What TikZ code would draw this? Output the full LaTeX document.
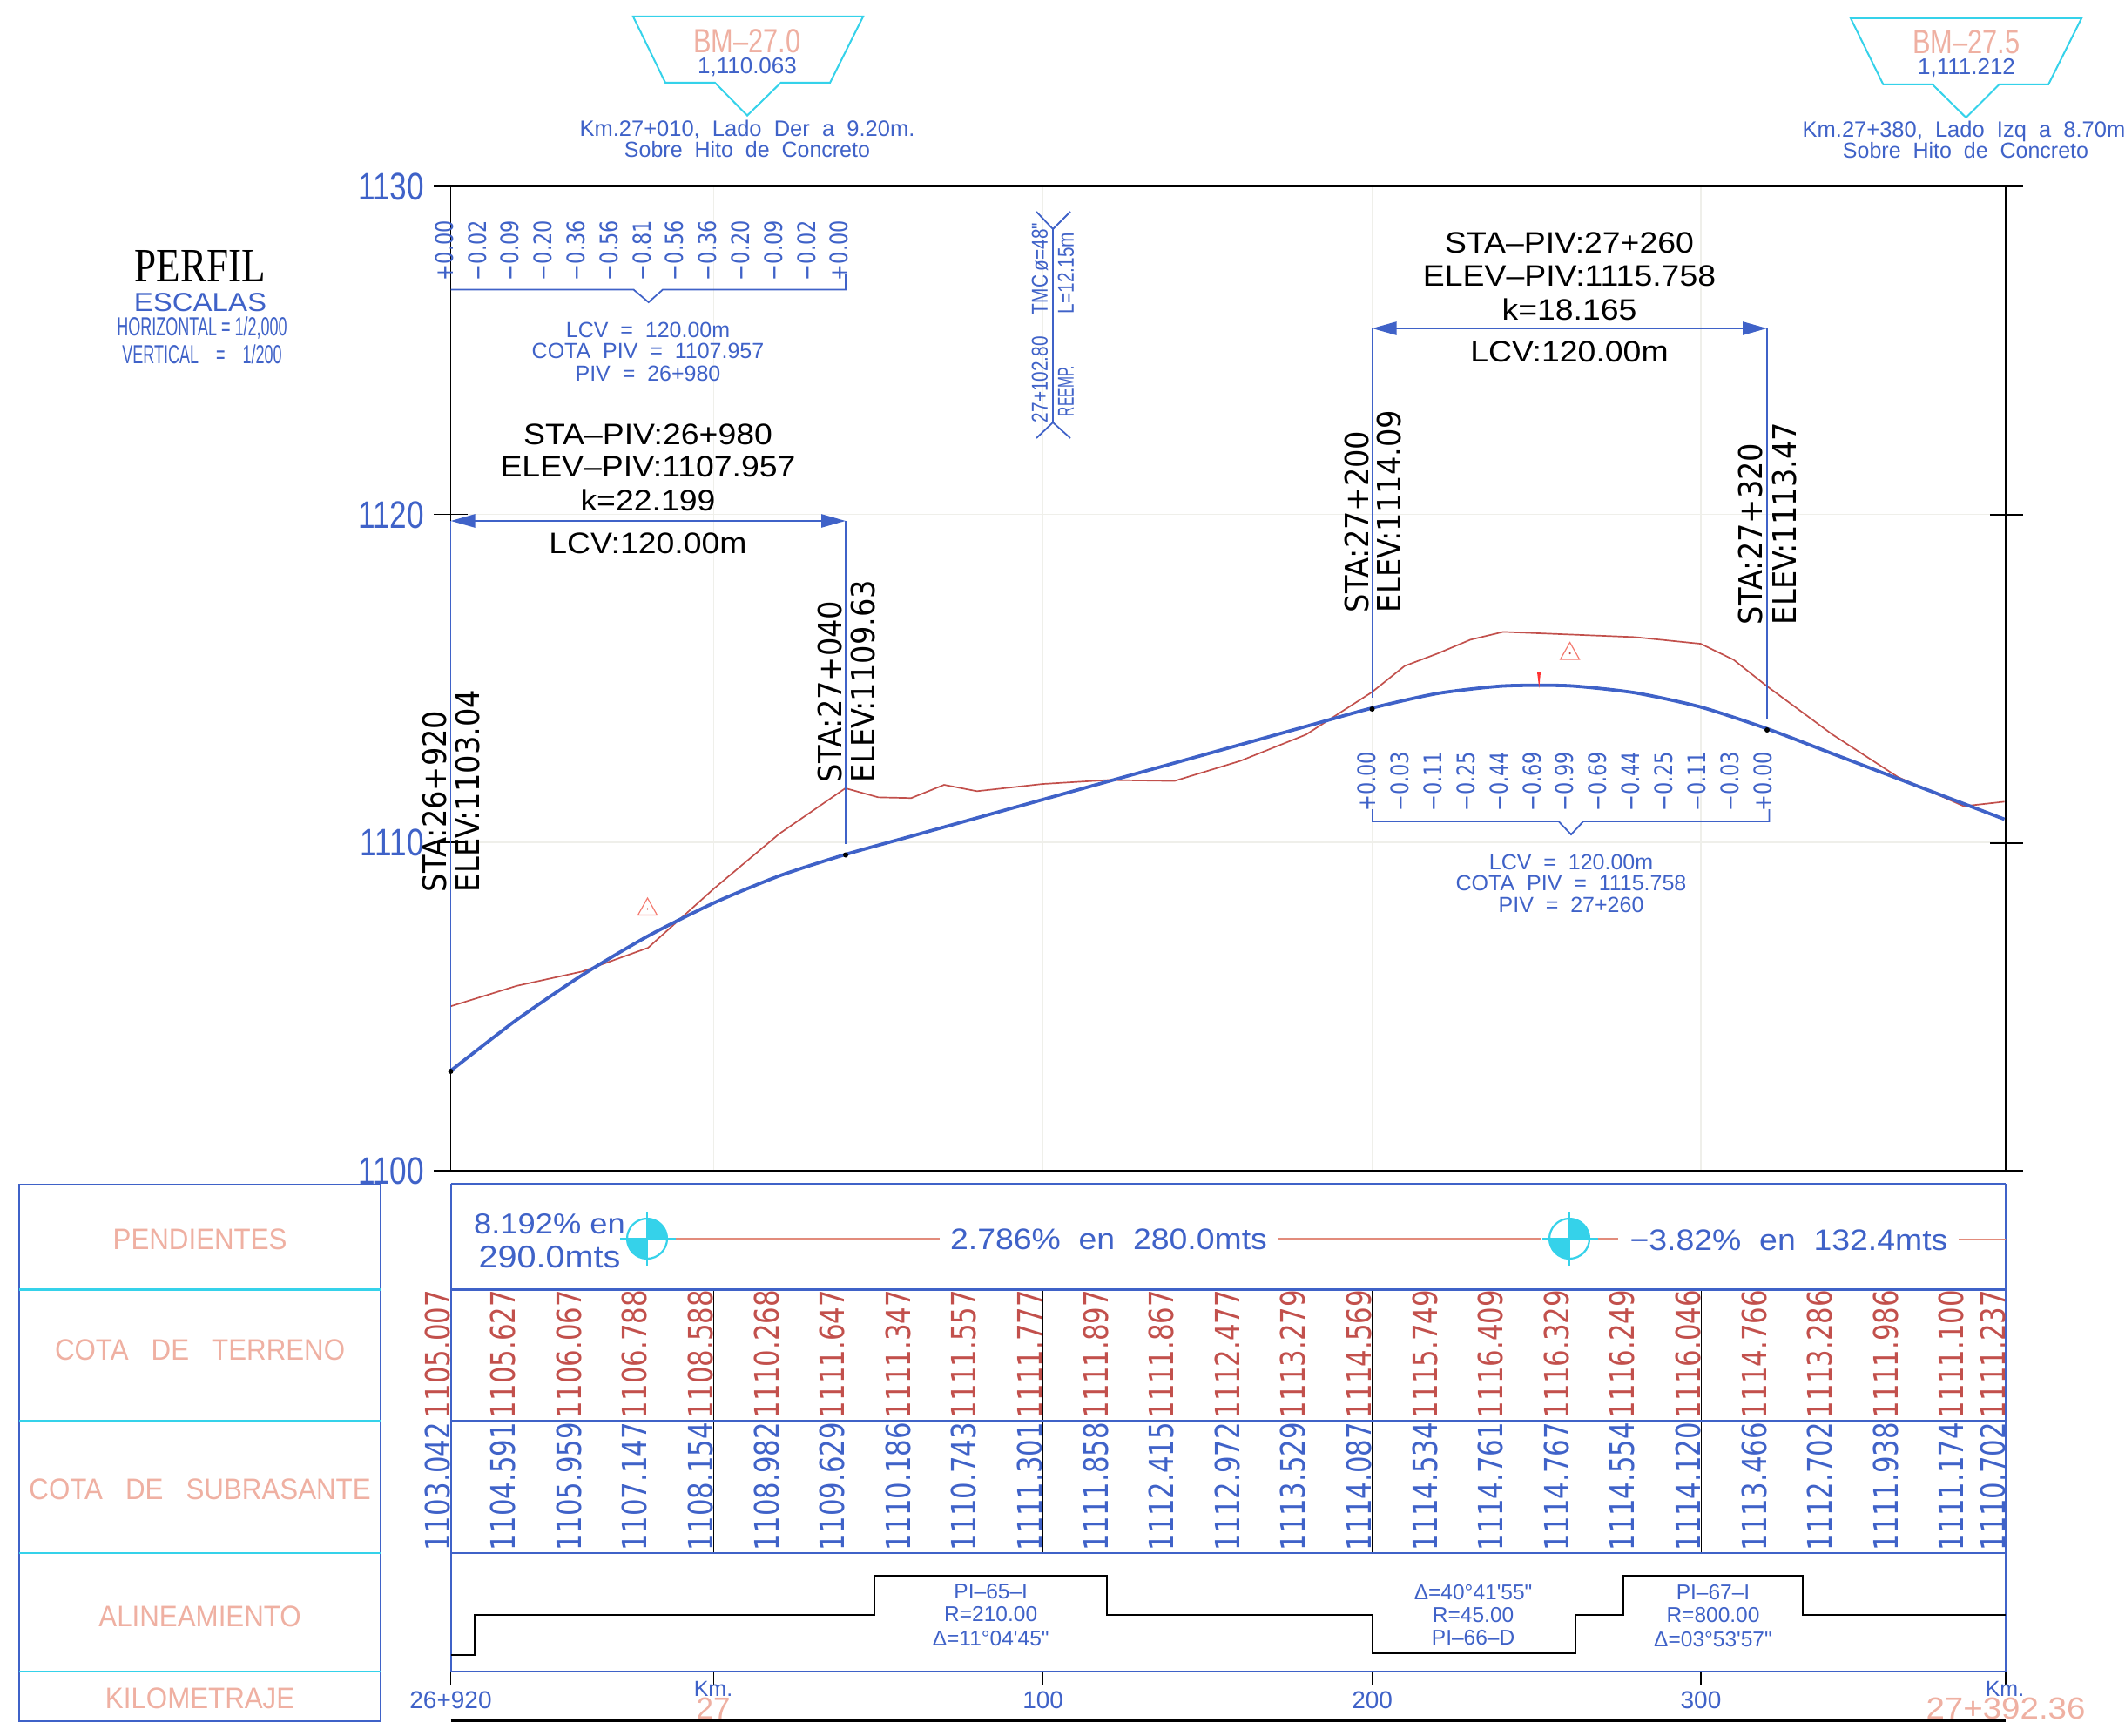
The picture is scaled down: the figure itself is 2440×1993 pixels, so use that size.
\documentclass[tikz,border=0pt]{standalone}
\usepackage{fontspec}
\usetikzlibrary{arrows.meta}
\setmainfont{Liberation Sans}
\newfontfamily\lsN[FakeStretch=0.60]{Liberation Sans}
\newfontfamily\lsA[FakeStretch=0.80]{Liberation Sans}
\newfontfamily\lsD[FakeStretch=0.92]{Liberation Sans}
\newfontfamily\lsB{Liberation Sans}
\newfontfamily\lsC[FakeStretch=1.10]{Liberation Sans}
\newfontfamily\dvA[FakeStretch=0.80]{DejaVu Sans}
\newfontfamily\dvB[FakeStretch=0.91]{DejaVu Sans}
\newfontfamily\srf[FakeStretch=0.82]{Liberation Serif}
\newcommand\fs[1]{\fontsize{#1}{#1}\selectfont}
\definecolor{cadblue}{HTML}{3F62C8}
\definecolor{cadcyan}{HTML}{35D2EA}
\definecolor{cadred}{HTML}{C2504C}
\definecolor{cadpink}{HTML}{EFB0A2}
\definecolor{slopered}{HTML}{E28C7C}
\definecolor{gridgray}{HTML}{EFEFEA}
\tikzset{
  lab/.style={inner sep=0pt,outer sep=0pt,align=center},
  bluet/.style={lab,text=cadblue},
  blackt/.style={lab,text=black},
  pinkt/.style={lab,text=cadpink},
  redt/.style={lab,text=cadred},
  vert/.style={rotate=90,anchor=west},
  bline/.style={draw=cadblue,line width=1.8pt},
  tline/.style={draw=cadblue,line width=2.6pt},
  kline/.style={draw=black,line width=1.5pt},
  hline/.style={draw=black,line width=2.4pt},
  cyline/.style={draw=cadcyan,line width=2pt},
  dim/.style={draw=cadblue,line width=2.5pt,{Triangle[length=28pt,width=15pt]}-{Triangle[length=28pt,width=15pt]}},
  pt/.style={circle,fill=black,inner sep=0pt,minimum size=6pt},
  bigblack/.style={blackt,font=\lsC\fs{34}},
  rotblack/.style={blackt,vert,font=\dvB\fs{37}},
  ordt/.style={bluet,vert,font=\dvA\fs{28}},
  small/.style={bluet,font=\lsB\fs{25}},
  alignt/.style={bluet,font=\lsB\fs{24.5}},
  kmt/.style={bluet,font=\lsB\fs{28}},
  mid/.style={bluet,font=\lsC\fs{34}},
  rowt/.style={pinkt,font=\lsD\fs{34}},
}
\begin{document}
\begin{tikzpicture}[x=1pt,y=-1pt]
\useasboundingbox (0,0) rectangle (2440,1993);
\fill[white] (0,0) rectangle (2440,1993);
% grid
\foreach \gx in {819.6,1197.7,1575.6,1953}
  \draw[gridgray,line width=1.2pt] (\gx,213.5) -- (\gx,1344);
\foreach \gy in {590.5,967}
  \draw[gridgray,line width=1.2pt] (517.5,\gy) -- (2303,\gy);
% axes
\draw[hline] (498,213.5) -- (2323,213.5);
\draw[hline] (498,1344) -- (2323,1344);
\draw[kline] (517.5,213.5) -- (517.5,598);
\draw[kline] (517.5,1230) -- (517.5,1344);
\draw[kline] (2303,213.5) -- (2303,1344);
\draw[kline] (498,590.5) -- (537,590.5);
\draw[kline] (504,967) -- (537,967);
\draw[kline] (2285,591) -- (2323,591);
\draw[kline] (2285,968) -- (2323,968);
\node[bluet,anchor=east,font=\lsA\fs{44}] (y1130) at (487,214) {1130};
\node[bluet,anchor=east,font=\lsA\fs{44}] (y1120) at (487,591) {1120};
\node[bluet,anchor=east,font=\lsA\fs{44}] (y1110) at (487,967) {1110};
\node[bluet,anchor=east,font=\lsA\fs{44}] (y1100) at (487,1344) {1100};
% profile lines
\begin{scope}[shift={(517.5,1344)},x=3.777pt,y=37.7pt]
\draw[cadred,line width=1.7pt,line join=round] plot coordinates {(0,5.007)(20,5.627)(40,6.067)(60,6.788)(80,8.588)(100,10.268)(120,11.647)(130,11.37)(140,11.347)(150,11.75)(160,11.557)(180,11.777)(200,11.897)(220,11.867)(240,12.477)(260,13.279)(280,14.569)(290,15.37)(300,15.749)(310,16.17)(320,16.409)(340,16.329)(360,16.249)(380,16.046)(390,15.56)(400,14.766)(420,13.286)(440,11.986)(460,11.100)(472.36,11.237)};
\draw[cadblue,line width=3.8pt,line join=round] plot[smooth,tension=0.4] coordinates {(0,3.042)(20,4.591)(40,5.959)(60,7.147)(80,8.154)(100,8.982)(120,9.629)(140,10.186)(160,10.743)(180,11.301)(200,11.858)(220,12.415)(240,12.972)(260,13.529)(280,14.087)(300,14.534)(320,14.761)(340,14.767)(360,14.554)(380,14.120)(400,13.466)(420,12.702)(440,11.938)(460,11.174)(472.36,10.702)};
\end{scope}
% vertical curve block 1
\coordinate (a1) at (517.5,598);
\coordinate (a2) at (971,598);
\coordinate (a1b) at (517.5,1230);
\coordinate (a2b) at (971,969);
\draw[bline] (a1) -- (a1b);
\draw[bline] (a2) -- (a2b);
\draw[dim] (a1) -- (a2);
\node[pt] (d1) at (517.5,1230) {};
\node[pt] (d2) at (971,981.5) {};
\node[bigblack] (s1a) at (744,499) {STA–PIV:26+980};
\node[bigblack] (s1b) at (744,536) {ELEV–PIV:1107.957};
\node[bigblack] (s1c) at (744,574) {k=22.199};
\node[bigblack] (s1d) at (744,624) {LCV:120.00m};
\node[rotblack] (r1) at (499,1024) {STA:26+920};
\node[rotblack] (r2) at (537,1024) {ELEV:1103.04};
\node[rotblack] (r3) at (953,898) {STA:27+040};
\node[rotblack] (r4) at (991,898) {ELEV:1109.63};
% vertical curve block 2
\coordinate (b1) at (1575.5,377);
\coordinate (b2) at (2029,377);
\coordinate (b1b) at (1575.5,801);
\coordinate (b2b) at (2029,826);
\draw[bline] (b1) -- (b1b);
\draw[bline] (b2) -- (b2b);
\draw[dim] (b1) -- (b2);
\node[pt] (d3) at (1575.5,814) {};
\node[pt] (d4) at (2029,838) {};
\node[bigblack] (s2a) at (1802,279) {STA–PIV:27+260};
\node[bigblack] (s2b) at (1802,316.5) {ELEV–PIV:1115.758};
\node[bigblack] (s2c) at (1802,355) {k=18.165};
\node[bigblack] (s2d) at (1802,404) {LCV:120.00m};
\node[rotblack] (r5) at (1558,703) {STA:27+200};
\node[rotblack] (r6) at (1595,703) {ELEV:1114.09};
\node[rotblack] (r7) at (2010,717) {STA:27+320};
\node[rotblack] (r8) at (2049,717) {ELEV:1113.47};
% ordinates
\foreach \v [count=\i from 0] in {+0.00,−0.02,−0.09,−0.20,−0.36,−0.56,−0.81,−0.56,−0.36,−0.20,−0.09,−0.02,+0.00}
  \node[ordt] (oa\i) at ({510+37.8*\i},322) {\v};
\draw[bline] (517.5,332.5) -- (727.5,332.5) -- (744.7,347) -- (761,332.5) -- (971,332.5) -- (971,314);
\node[small] (l1a) at (744,378.5) {LCV\ \ =\ \ 120.00m};
\node[small] (l1b) at (744,403) {COTA\ \ PIV\ \ =\ \ 1107.957};
\node[small] (l1c) at (744,428.5) {PIV\ \ =\ \ 26+980};
\foreach \v [count=\i from 0] in {+0.00,−0.03,−0.11,−0.25,−0.44,−0.69,−0.99,−0.69,−0.44,−0.25,−0.11,−0.03,+0.00}
  \node[ordt] (ob\i) at ({1569.6+37.85*\i},931.5) {\v};
\draw[bline] (1576,929) -- (1576,943) -- (1789.6,943) -- (1804,958) -- (1818,943) -- (2031.5,943) -- (2031.5,929);
\node[small] (l2a) at (1804,989.5) {LCV\ \ =\ \ 120.00m};
\node[small] (l2b) at (1804,1013.5) {COTA\ \ PIV\ \ =\ \ 1115.758};
\node[small] (l2c) at (1804,1039) {PIV\ \ =\ \ 27+260};
% marks on profile
\foreach \mx/\my in {743.5/1050.5,1802.6/757}{
  \draw[cadpink!70!red,line width=1.2pt] (\mx-11,\my) -- (\mx+11,\my) -- (\mx,\my-19.5) -- cycle;
  \fill[cadred] (\mx,\my-7) circle[radius=1.2];
}
\fill[red!80!white] (1765,772) -- (1769,772) -- (1767.3,790) -- cycle;
% TMC note
\draw[bline] (1209,263) -- (1209,485);
\draw[bline] (1190,243) -- (1209,263) -- (1229,243);
\draw[bline] (1190,503) -- (1209,485) -- (1229,503);
\node[bluet,vert,font=\lsA\fs{26}] (t1) at (1194,485) {27+102.80};
\node[bluet,vert,font=\lsA\fs{26}] (t2) at (1194,361) {TMC};
\node[bluet,vert,font=\lsA\fs{26}] (t3) at (1194,311) {ø=48"};
\node[bluet,vert,font=\lsN\fs{26}] (t4) at (1224,478) {REEMP.};
\node[bluet,vert,font=\lsA\fs{26}] (t5) at (1224,360) {L=12.15m};
% benchmarks
\draw[cyline] (727,19) -- (991,19) -- (953,95) -- (896.5,95) -- (858,132.6) -- (821,95) -- (764,95) -- cycle;
\draw[cyline] (2125,21) -- (2390,21) -- (2352,97) -- (2295.5,97) -- (2257.4,135) -- (2219,97) -- (2162.4,97) -- cycle;
\node[pinkt,font=\lsA\fs{38.5}] (bm1) at (858,47) {BM–27.0};
\node[bluet,font=\lsB\fs{26}] (bv1) at (858,77) {1,110.063};
\node[bluet,font=\lsB\fs{25.5}] (bk1) at (858,148.7) {Km.27+010,\ \ Lado\ \ Der\ \ a\ \ 9.20m.};
\node[small] (bh1) at (858,171.4) {Sobre\ \ Hito\ \ de\ \ Concreto};
\node[pinkt,font=\lsA\fs{38.5}] (bm2) at (2258,48) {BM–27.5};
\node[bluet,font=\lsB\fs{26}] (bv2) at (2258,78.5) {1,111.212};
\node[bluet,font=\lsB\fs{25.5}] (bk2) at (2255,151) {Km.27+380,\ \ Lado\ \ Izq\ \ a\ \ 8.70m};
\node[small] (bh2) at (2257,172.3) {Sobre\ \ Hito\ \ de\ \ Concreto};
% title
\node[lab,text=black,font=\srf\fs{55}] (perfil) at (230,305) {PERFIL};
\node[bluet,font=\lsC\fs{30}] (esc) at (230,347) {ESCALAS};
\node[bluet,font=\lsN\fs{30}] (hor) at (232,377) {HORIZONTAL = 1/2,000};
\node[bluet,font=\lsN\fs{30}] (ver) at (232,407) {VERTICAL\ \ \ \ =\ \ \ \ 1/200};
% left table
\draw[tline] (22,1360) rectangle (437,1976);
\foreach \ly in {1480.5,1631,1783,1919}
  \draw[cyline,line width=2.6pt] (22,\ly) -- (437,\ly);
\node[rowt] (p1) at (229.6,1422.5) {PENDIENTES};
\node[rowt] (p2) at (229.6,1549.6) {COTA\ \ \ DE\ \ \ TERRENO};
\node[rowt] (p3) at (229.6,1710) {COTA\ \ \ DE\ \ \ SUBRASANTE};
\node[rowt] (p4) at (229.6,1856) {ALINEAMIENTO};
\node[rowt] (p5) at (229.6,1950) {KILOMETRAJE};
% right table
\foreach \vx in {819.6,1197.7,1575.6,1953}{
  \draw[black,line width=1pt] (\vx,1480.5) -- (\vx,1783);
  \draw[kline] (\vx,1919) -- (\vx,1934);
}
\draw[kline] (517.5,1919) -- (517.5,1934);
\draw[kline] (2303,1919) -- (2303,1934);
\draw[tline] (517.5,1359) -- (2303,1359);
\foreach \ly in {1480.5,1631,1783,1919}
  \draw[tline] (517.5,\ly) -- (2303,\ly);
\draw[bline,line width=2pt] (517.5,1359) -- (517.5,1919);
\draw[bline,line width=2pt] (2303,1359) -- (2303,1919);
\draw[hline] (517.5,1975.5) -- (2303,1975.5);
% slope row
\foreach \cx in {743,1802}{
  \begin{scope}
    \clip (\cx,1422) circle[radius=23];
    \fill[cadcyan] (\cx,1399) rectangle (\cx+23,1422);
    \fill[cadcyan] (\cx-23,1422) rectangle (\cx,1445);
  \end{scope}
  \draw[cyline,line width=2.2pt] (\cx,1422) circle[radius=23];
  \draw[cyline,line width=2.2pt] (\cx-31,1422) -- (\cx+33,1422);
  \draw[cyline,line width=2.2pt] (\cx,1391) -- (\cx,1453);
}
\draw[slopered,line width=1.2pt] (776,1422) -- (1079,1422);
\draw[slopered,line width=1.2pt] (1467.5,1422) -- (1770,1422);
\draw[slopered,line width=1.2pt] (1835,1422) -- (1858,1422);
\draw[slopered,line width=1.2pt] (2249,1423) -- (2303,1423);
\node[bluet,font=\lsC\fs{33}] (g1) at (631,1405) {8.192\%\ en};
\node[bluet,font=\lsC\fs{36}] (g2) at (631,1443) {290.0mts};
\node[mid] (g3) at (1273,1423) {2.786\%\ \ en\ \ 280.0mts};
\node[mid] (g4) at (2054,1424) {−3.82\%\ \ en\ \ 132.4mts};
% elevations
\foreach \v [count=\i from 0] in {1105.007,1105.627,1106.067,1106.788,1108.588,1110.268,1111.647,1111.347,1111.557,1111.777,1111.897,1111.867,1112.477,1113.279,1114.569,1115.749,1116.409,1116.329,1116.249,1116.046,1114.766,1113.286,1111.986,1111.100}
  \node[redt,vert,font=\dvA\fs{38.5}] (te\i) at ({502+75.6*\i},1628) {\v};
\node[redt,vert,font=\dvA\fs{38.5}] (te24) at (2288.5,1628) {1111.237};
\foreach \v [count=\i from 0] in {1103.042,1104.591,1105.959,1107.147,1108.154,1108.982,1109.629,1110.186,1110.743,1111.301,1111.858,1112.415,1112.972,1113.529,1114.087,1114.534,1114.761,1114.767,1114.554,1114.120,1113.466,1112.702,1111.938,1111.174}
  \node[bluet,vert,font=\dvA\fs{38.5}] (su\i) at ({502+75.6*\i},1780) {\v};
\node[bluet,vert,font=\dvA\fs{38.5}] (su24) at (2288.5,1780) {1110.702};
% alignment
\draw[draw=black,line width=2pt,line join=miter] (517.5,1899.6) -- (545,1899.6) -- (545,1853.5) -- (1004,1853.5) -- (1004,1809) -- (1271,1809) -- (1271,1853.5) -- (1575.6,1853.5) -- (1575.6,1898) -- (1809,1898) -- (1809,1853.5) -- (1864,1853.5) -- (1864,1809) -- (2070,1809) -- (2070,1854) -- (2303,1854);
\node[alignt] (c1a) at (1137.7,1826.7) {PI–65–I};
\node[alignt] (c1b) at (1137.7,1853) {R=210.00};
\node[alignt] (c1c) at (1137.7,1881) {Δ=11°04'45"};
\node[alignt] (c2a) at (1691.6,1828) {Δ=40°41'55"};
\node[alignt] (c2b) at (1691.6,1854) {R=45.00};
\node[alignt] (c2c) at (1691.6,1880) {PI–66–D};
\node[alignt] (c3a) at (1967,1828) {PI–67–I};
\node[alignt] (c3b) at (1967,1854) {R=800.00};
\node[alignt] (c3c) at (1967,1882) {Δ=03°53'57"};
% kilometrage
\node[kmt] (k0) at (517.5,1952) {26+920};
\node[kmt] (k1) at (1197.7,1952) {100};
\node[kmt] (k2) at (1575.6,1952) {200};
\node[kmt] (k3) at (1953,1952) {300};
\node[small] (km1) at (819,1939) {Km.};
\node[pinkt,font=\lsB\fs{35}] (km1v) at (819,1961) {27};
\node[small] (km2) at (2302,1939) {Km.};
\node[pinkt,font=\lsC\fs{35}] (km2v) at (2303,1961) {27+392.36};
\end{tikzpicture}
\end{document}
